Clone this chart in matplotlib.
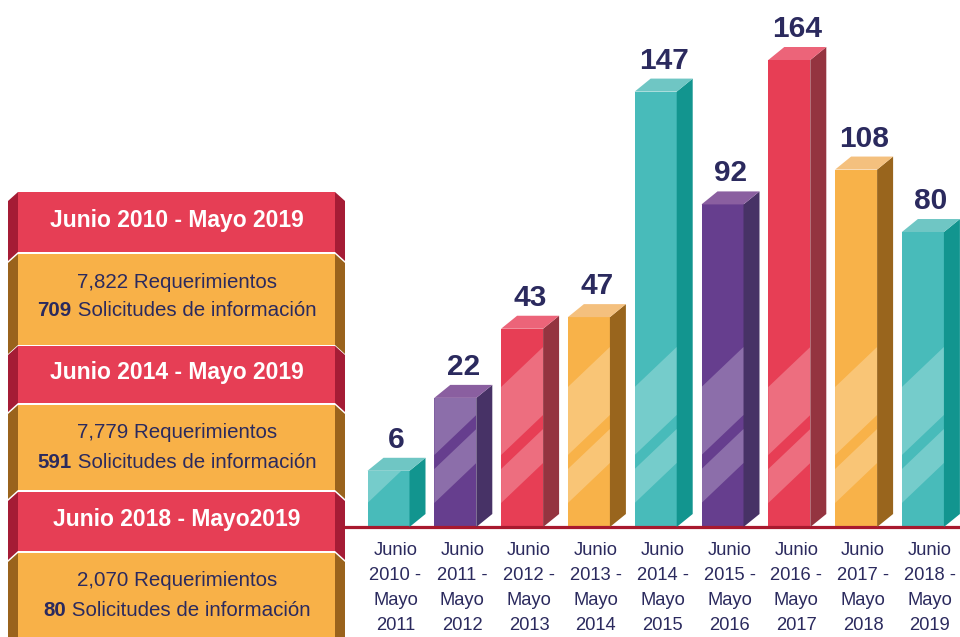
import numpy as np
import matplotlib
matplotlib.use("Agg")
import matplotlib.pyplot as plt
from matplotlib.patches import Polygon, Rectangle
from matplotlib.transforms import ScaledTranslation, IdentityTransform
from matplotlib import font_manager

# ---------------- data ----------------
categories = ["Junio\n2010 -\nMayo\n2011", "Junio\n2011 -\nMayo\n2012", "Junio\n2012 -\nMayo\n2013",
              "Junio\n2013 -\nMayo\n2014", "Junio\n2014 -\nMayo\n2015", "Junio\n2015 -\nMayo\n2016",
              "Junio\n2016 -\nMayo\n2017", "Junio\n2017 -\nMayo\n2018", "Junio\n2018 -\nMayo\n2019"]
values = [6, 22, 43, 47, 147, 92, 164, 108, 80]
color_keys = ["teal", "purple", "red", "orange", "teal", "purple", "red", "orange", "teal"]

panel_headers = ["Junio 2010 - Mayo 2019", "Junio 2014 - Mayo 2019", "Junio 2018 - Mayo2019"]
panel_requerimientos = ["7,822", "7,779", "2,070"]
panel_solicitudes = ["709", "591", "80"]

# ---------------- styles ----------------
palette = {
    "teal":   dict(front="#48BBBA", side="#12958F", top="#6FC6C4"),
    "purple": dict(front="#663E8E", side="#473266", top="#8A5FA0"),
    "red":    dict(front="#E73E55", side="#943440", top="#EC6479"),
    "orange": dict(front="#F8B249", side="#99651D", top="#F4C07E"),
}
NAVY = "#2B2A5E"
names = {f.name for f in font_manager.fontManager.ttflist}
NARROW = "Liberation Sans Narrow" if "Liberation Sans Narrow" in names else "Liberation Sans"
NARROW_OK = NARROW == "Liberation Sans Narrow"
REG = "Liberation Sans"

W, H = 960, 637
fig = plt.figure(figsize=(W / 100, H / 100), dpi=100)
fig.patch.set_facecolor("white")

# ---------------- left panel ----------------
pax = fig.add_axes([0, 0, 1, 1])
pax.set_xlim(0, W)
pax.set_ylim(H, 0)
pax.axis("off")
pax.patch.set_visible(False)

red_secs = [(192, 252), (346, 403), (492, 551)]
org_secs = [(254, 345), (405, 490), (553, 640)]
L0, L1, R0, R1, SK = 8, 18, 335, 345, 9


def section(top, bot, main, tab):
    pax.add_patch(Rectangle((L1, top), R0 - L1, bot - top, color=main, lw=0))
    pax.add_patch(Polygon([(L0, top + SK), (L1, top), (L1, bot), (L0, bot + SK)],
                          closed=True, color=tab, lw=0))
    pax.add_patch(Polygon([(R0, top), (R1, top + SK), (R1, bot + SK), (R0, bot)],
                          closed=True, color=tab, lw=0))


for (t, b) in org_secs:
    section(t, b, "#F8B148", "#9A631C")
for (t, b) in red_secs:
    section(t, b, "#E63E55", "#A51C35")

hsize = 19 if NARROW_OK else 16.5
bsize = 17.5 if NARROW_OK else 14.8
CX = 177
for k in range(3):
    t, b = red_secs[k]
    pax.text(CX, (t + b) / 2 - 2, panel_headers[k], color="white", fontsize=hsize,
             fontweight="bold", family=[NARROW, "DejaVu Sans"], ha="center", va="center")
    t, b = org_secs[k]
    y1 = t + 28
    y2 = t + 57
    pax.text(CX, y1, panel_requerimientos[k] + " Requerimientos", color=NAVY, fontsize=bsize,
             family=[NARROW, "DejaVu Sans"], ha="center", va="center")
    t1 = pax.text(0, y2, panel_solicitudes[k], color=NAVY, fontsize=bsize, fontweight="bold",
                  family=[NARROW, "DejaVu Sans"], ha="left", va="center")
    t2 = pax.text(0, y2, " Solicitudes de información", color=NAVY, fontsize=bsize,
                  family=[NARROW, "DejaVu Sans"], ha="left", va="center")
    r = fig.canvas.get_renderer()
    w1 = t1.get_window_extent(r).width
    w2 = t2.get_window_extent(r).width
    start = CX - (w1 + w2) / 2
    t1.set_x(start)
    t2.set_x(start + w1)

# ---------------- bar chart ----------------
AX_L, AX_R, BASE, TOPPX = 343, 960, 527, 60
STEP, C0 = 66.8, 388.5
ax = fig.add_axes([AX_L / W, (H - BASE) / H, (AX_R - AX_L) / W, (BASE - TOPPX) / H])
ax.patch.set_visible(False)
for s in ax.spines.values():
    s.set_visible(False)
P = 0.64
ax.set_yscale("function", functions=(lambda v: np.sign(v) * np.abs(v) ** P,
                                     lambda y: np.sign(y) * np.abs(y) ** (1 / P)))
ax.set_ylim(0, max(values))
ax.set_xlim((AX_L - C0) / STEP, (AX_R - C0) / STEP)
ax.set_yticks([])

x = np.arange(len(values))
fronts = [palette[c]["front"] for c in color_keys]
bars = ax.bar(x, values, width=42 / STEP, color=fronts, linewidth=0, zorder=3)

DX, DY = 16, 13
ident = IdentityTransform()
for i, (bar, v, ck) in enumerate(zip(bars, values, color_keys)):
    (x0, y0) = ax.transData.transform((i - bar.get_width() / 2, 0))
    (x1, y1) = ax.transData.transform((i + bar.get_width() / 2, v))
    side = Polygon([(x1, y0), (x1 + DX, y0 + DY), (x1 + DX, y1 + DY), (x1, y1)], closed=True,
                   transform=ident, color=palette[ck]["side"], lw=0, zorder=3)
    top = Polygon([(x0, y1), (x0 + DX, y1 + DY), (x1 + DX, y1 + DY), (x1, y1)], closed=True,
                  transform=ident, color=palette[ck]["top"], lw=0, zorder=3)
    fig.add_artist(side)
    fig.add_artist(top)
    # decorative diagonal highlight bands
    for (a, b) in [(72, 140), (24, 58)]:
        band = Polygon([(x0, y0 + a), (x1, y0 + a + 40), (x1, y0 + b + 40), (x0, y0 + b)],
                       closed=True, transform=ident, color="white", alpha=0.25, lw=0, zorder=4)
        fig.add_artist(band)
        band.set_clip_path(bar)
    ax.annotate(str(v), xy=(i, v), xytext=(DX / 2, DY + 10), textcoords="offset pixels",
                ha="center", va="baseline", fontsize=21.5, fontweight="bold", color=NAVY,
                family=[REG, "DejaVu Sans"], zorder=5)

ax.axhline(0, color="#A8192E", lw=2.3, zorder=6, clip_on=False)

ax.set_xticks(x)
ax.set_xticklabels(categories, fontsize=14.5 if NARROW_OK else 13.2, color=NAVY,
                   family=[NARROW, "DejaVu Sans"], linespacing=1.62)
ax.tick_params(axis="x", length=0, pad=10.5)
for lab in ax.get_xticklabels():
    lab.set_transform(lab.get_transform() + ScaledTranslation(7 / 100, 0, fig.dpi_scale_trans))

fig.savefig("out.png", dpi=100, facecolor="white")
